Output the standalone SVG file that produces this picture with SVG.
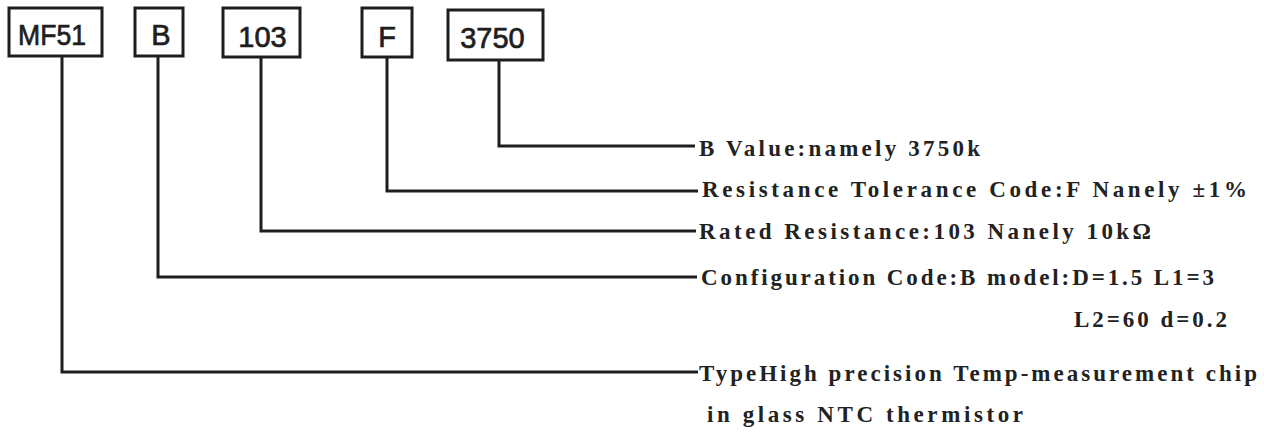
<svg xmlns="http://www.w3.org/2000/svg" width="1264" height="432" viewBox="0 0 1264 432">
  <style>
    .box { fill: #ffffff; stroke: #1e1e1e; stroke-width: 3; }
    .code { font-family: "Liberation Sans", Arial, sans-serif; font-size: 29px; fill: #1e1e1e; stroke: #1e1e1e; stroke-width: 0.7; text-anchor: middle; }
    .conn { fill: none; stroke: #1e1e1e; stroke-width: 3; stroke-linejoin: miter; }
    .desc { font-family: "Liberation Serif", "Times New Roman", serif; font-size: 23px; font-weight: bold; fill: #222222; }
  </style>
  <rect width="1264" height="432" fill="#ffffff"/>

  <g id="connectors">
    <polyline class="conn" points="62,56 62,372 698,372"/>
    <polyline class="conn" points="158,56 158,277 697,277"/>
    <polyline class="conn" points="261,57 261,231 696,231"/>
    <polyline class="conn" points="387,57 387,191 698,191"/>
    <polyline class="conn" points="499,60 499,146 695,146"/>
  </g>

  <g id="node-mf51">
    <rect class="box" x="9" y="8" width="93" height="48"/>
    <text class="code" x="52" y="45" textLength="68" lengthAdjust="spacingAndGlyphs">MF51</text>
  </g>
  <g id="node-b">
    <rect class="box" x="135" y="8" width="48" height="48"/>
    <text class="code" x="161" y="45">B</text>
  </g>
  <g id="node-103">
    <rect class="box" x="223" y="8" width="77" height="49"/>
    <text class="code" x="262.5" y="47">103</text>
  </g>
  <g id="node-f">
    <rect class="box" x="362" y="8" width="50" height="49"/>
    <text class="code" x="387" y="47">F</text>
  </g>
  <g id="node-3750">
    <rect class="box" x="448" y="10" width="95" height="50"/>
    <text class="code" x="492.5" y="48">3750</text>
  </g>

  <g id="labels">
    <text class="desc" x="699" y="156" textLength="281" lengthAdjust="spacing">B Value:namely 3750k</text>
    <text class="desc" x="702" y="197" textLength="545" lengthAdjust="spacing">Resistance Tolerance Code:F Nanely ±1%</text>
    <text class="desc" x="699" y="239" textLength="452" lengthAdjust="spacing">Rated Resistance:103 Nanely 10kΩ</text>
    <text class="desc" x="701" y="285" textLength="513" lengthAdjust="spacing">Configuration Code:B model:D=1.5 L1=3</text>
    <text class="desc" x="1074" y="327" textLength="153" lengthAdjust="spacing">L2=60 d=0.2</text>
    <text class="desc" x="699" y="381" textLength="558" lengthAdjust="spacing">TypeHigh precision Temp-measurement chip</text>
    <text class="desc" x="707" y="422" textLength="316" lengthAdjust="spacing">in glass NTC thermistor</text>
  </g>
</svg>
